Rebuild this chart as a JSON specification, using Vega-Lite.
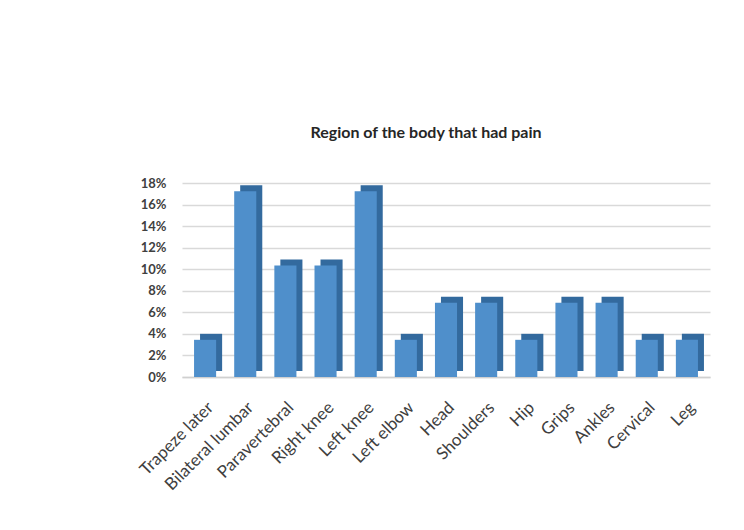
{
  "$schema": "https://vega.github.io/schema/vega-lite/v6.json",
  "width": 528,
  "height": 194,
  "autosize": {"type": "none"},
  "padding": {"left": 182, "top": 183, "right": 34, "bottom": 153},
  "background": "white",
  "title": {"text": "Region of the body that had pain", "font": "Lato", "fontSize": 16, "fontWeight": "bold", "color": "#262626", "anchor": "middle", "offset": 36, "dx": -20},
  "data": {"values": [
    {"region": "Trapeze later", "share": 0.0345},
    {"region": "Bilateral lumbar", "share": 0.1724},
    {"region": "Paravertebral", "share": 0.1034},
    {"region": "Right knee", "share": 0.1034},
    {"region": "Left knee", "share": 0.1724},
    {"region": "Left elbow", "share": 0.0345},
    {"region": "Head", "share": 0.069},
    {"region": "Shoulders", "share": 0.069},
    {"region": "Hip", "share": 0.0345},
    {"region": "Grips", "share": 0.069},
    {"region": "Ankles", "share": 0.069},
    {"region": "Cervical", "share": 0.0345},
    {"region": "Leg", "share": 0.0345}
  ]},
  "encoding": {
    "x": {"field": "region", "type": "nominal", "sort": null,
      "scale": {"paddingInner": 0.45, "paddingOuter": 0.3},
      "axis": {"title": null, "labelAngle": -45, "labelFont": "Lato", "labelFontSize": 17, "labelColor": "#404040", "labelPadding": 22, "ticks": false, "domainColor": "#d0d0d0", "domainWidth": 1.5, "labelOverlap": false}},
    "y": {"field": "share", "type": "quantitative",
      "scale": {"domain": [0, 0.18]},
      "axis": {"title": null, "values": [0, 0.02, 0.04, 0.06, 0.08, 0.1, 0.12, 0.14, 0.16, 0.18], "format": ".0%", "labelFont": "Lato", "labelFontWeight": "bold", "labelFontSize": 13, "labelColor": "#404040", "labelPadding": 16, "domain": false, "ticks": false, "grid": true, "gridColor": "#d9d9d9", "gridWidth": 1.5}}
  },
  "layer": [
    {"mark": {"type": "bar", "color": "#336a9e", "xOffset": 6, "yOffset": -6}},
    {"mark": {"type": "bar", "color": "#4f8fcb"}}
  ],
  "config": {"view": {"stroke": null}}
}
